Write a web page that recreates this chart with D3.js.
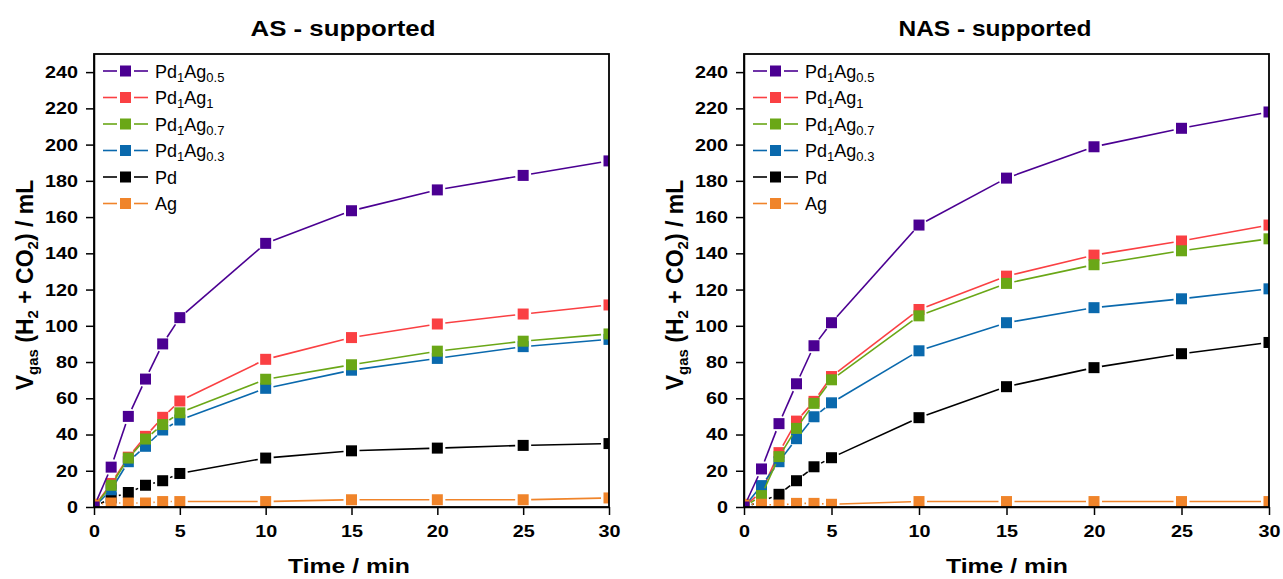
<!DOCTYPE html>
<html lang="en">
<head>
  <meta charset="UTF-8">
  <title>Gas evolution</title>
  <script src="https://d3js.org/d3.v7.min.js"></script>
  <style>
    body {
      margin: 0;
      background: white;
      font-family: "Liberation Sans", Arial, sans-serif;
    }

    svg {
      display: block;
    }

    .tick text {
      font-family: "Liberation Sans", Arial, sans-serif;
      font-size: 17px;
      font-weight: bold;
      fill: black;
    }

    .tick line,
    .domain {
      stroke: black;
      stroke-width: 1.5;
    }
  </style>
</head>
<body>
  <svg id="chart"></svg>
  <script>
    // Sampling times (min)
    const times = [0, 1, 2, 3, 4, 5, 10, 15, 20, 25, 30];
    const xTicks = [0, 5, 10, 15, 20, 25, 30];
    const yTicks = [0, 20, 40, 60, 80, 100, 120, 140, 160, 180, 200, 220, 240];

    // Series names, subscripts and colours
    const seriesKeys = ["PdAg05", "PdAg1", "PdAg07", "PdAg03", "Pd", "Ag"];
    const seriesLabels = [
      [["Pd", false], ["1", true], ["Ag", false], ["0.5", true]],
      [["Pd", false], ["1", true], ["Ag", false], ["1", true]],
      [["Pd", false], ["1", true], ["Ag", false], ["0.7", true]],
      [["Pd", false], ["1", true], ["Ag", false], ["0.3", true]],
      [["Pd", false]],
      [["Ag", false]]
    ];
    const seriesColors = ["#4b0092", "#fa4043", "#6aa717", "#0a69ad", "#000000", "#f0842a"];
    // order in which the lines are stacked (last on top)
    const drawOrder = ["Pd", "PdAg1", "PdAg03", "PdAg07", "Ag", "PdAg05"];

    // AS - supported, V gas (mL)
    const asPdAg05 = [0, 22, 50, 70.6, 90, 104.5, 145.5, 163.5, 175, 183, 191];
    const asPdAg1 = [0, 13, 27.5, 39, 49.5, 58.5, 81.5, 93.5, 101, 106.5, 111.5];
    const asPdAg07 = [0, 12, 27, 37.5, 45.5, 52, 70.5, 78.5, 86, 91.5, 95.5];
    const asPdAg03 = [0, 9.5, 25, 33.5, 42.5, 48, 65.5, 75.5, 82, 88.5, 92.5];
    const asPd = [0, 5, 8, 12, 14.5, 18.5, 27, 31, 32.5, 34, 35];
    const asAg = [1.5, 2.2, 2.2, 2.2, 3, 3, 3, 4, 4, 4, 5];

    // NAS - supported, V gas (mL)
    const nasPdAg05 = [0, 21, 46, 68, 89, 101.7, 155.6, 181.5, 198.8, 209, 218];
    const nasPdAg1 = [0, 8.5, 30, 47.4, 58.3, 72, 109, 127.4, 139, 146.8, 155.6];
    const nasPdAg07 = [0, 6.3, 27.8, 43.4, 57.2, 70.2, 105.5, 123.4, 133.7, 141.4, 148];
    const nasPdAg03 = [0, 11.8, 25, 37.7, 49.8, 57.5, 86.2, 101.7, 110, 114.9, 120.4];
    const nasPd = [0, 3, 7, 14.5, 22.2, 27.2, 49.3, 66.4, 76.9, 84.6, 90.8];
    const nasAg = [1.5, 1.5, 1, 2, 2, 1.5, 3, 3, 3, 3, 3];

    const width = 1283;
    const height = 579;
    const plotTop = 54;
    const plotBottom = 507;
    const markerSize = 11;
    const lineGap = markerSize / 2 + 2.5;

    const panels = [
      {
        title: "AS - supported", titleX: 343, titleLen: 185, left: 94, right: 609, labelX: 349,
        data: { PdAg05: asPdAg05, PdAg1: asPdAg1, PdAg07: asPdAg07, PdAg03: asPdAg03, Pd: asPd, Ag: asAg }
      },
      {
        title: "NAS - supported", titleX: 995, titleLen: 193, left: 744, right: 1269, labelX: 1007,
        data: { PdAg05: nasPdAg05, PdAg1: nasPdAg1, PdAg07: nasPdAg07, PdAg03: nasPdAg03, Pd: nasPd, Ag: nasAg }
      }
    ];

    const svg = d3.select("#chart")
      .attr("width", width)
      .attr("height", height);

    const yScale = d3.scaleLinear().domain([0, 250]).range([plotBottom, plotTop]);

    // draw a line between two points, leaving a gap round each marker
    function gappedSegments(g, pts, color) {
      for (let i = 0; i < pts.length - 1; i++) {
        const [x1, y1] = pts[i];
        const [x2, y2] = pts[i + 1];
        const len = Math.hypot(x2 - x1, y2 - y1);
        if (len <= 2 * lineGap + 1) continue;
        const ux = (x2 - x1) / len, uy = (y2 - y1) / len;
        g.append("line")
          .attr("x1", x1 + ux * lineGap)
          .attr("y1", y1 + uy * lineGap)
          .attr("x2", x2 - ux * lineGap)
          .attr("y2", y2 - uy * lineGap)
          .attr("stroke", color)
          .attr("stroke-width", 1.6);
      }
    }

    // the original lettering is a little wider than Liberation Sans
    function widen(sel, perChar) {
      sel.attr("textLength", function () { return this.textContent.length * perChar; })
        .attr("lengthAdjust", "spacingAndGlyphs");
    }

    panels.forEach((p, pi) => {
      const xScale = d3.scaleLinear().domain([0, 30]).range([p.left, p.right]);

      // Title
      svg.append("text")
        .attr("x", p.titleX)
        .attr("y", 36)
        .attr("text-anchor", "middle")
        .attr("textLength", p.titleLen)
        .attr("lengthAdjust", "spacingAndGlyphs")
        .style("font-size", "22px")
        .style("font-weight", "bold")
        .text(p.title);

      // Axes
      const xAxis = svg.append("g")
        .attr("transform", `translate(0, ${plotBottom})`)
        .call(d3.axisBottom(xScale).tickValues(xTicks).tickSize(8).tickPadding(10).tickSizeOuter(0));
      widen(xAxis.selectAll(".tick text"), 11);

      const yAxis = svg.append("g")
        .attr("transform", `translate(${p.left}, 0)`)
        .call(d3.axisLeft(yScale).tickValues(yTicks).tickSize(8).tickPadding(8).tickSizeOuter(0));
      widen(yAxis.selectAll(".tick text"), 11);

      // Clip to the frame
      const clipId = "clip" + pi;
      svg.append("clipPath")
        .attr("id", clipId)
        .append("rect")
        .attr("x", p.left)
        .attr("y", plotTop)
        .attr("width", p.right - p.left)
        .attr("height", plotBottom - plotTop);

      const plot = svg.append("g").attr("clip-path", `url(#${clipId})`);

      drawOrder.forEach(key => {
        const idx = seriesKeys.indexOf(key);
        const color = seriesColors[idx];
        const values = p.data[key];
        const pts = times.map((t, i) => [xScale(t), yScale(values[i])]);
        const g = plot.append("g");
        gappedSegments(g, pts, color);
        g.selectAll("rect")
          .data(pts)
          .enter()
          .append("rect")
          .attr("x", d => d[0] - markerSize / 2)
          .attr("y", d => d[1] - markerSize / 2)
          .attr("width", markerSize)
          .attr("height", markerSize)
          .attr("fill", color);
      });

      // Frame
      svg.append("rect")
        .attr("x", p.left)
        .attr("y", plotTop)
        .attr("width", p.right - p.left)
        .attr("height", plotBottom - plotTop)
        .attr("fill", "none")
        .attr("stroke", "black")
        .attr("stroke-width", 1.8);

      // Legend
      const legend = svg.append("g")
        .attr("transform", `translate(${p.left}, 71)`);

      seriesKeys.forEach((key, i) => {
        const row = legend.append("g").attr("transform", `translate(0, ${i * 26.5})`);
        const color = seriesColors[i];
        row.append("line").attr("x1", 9).attr("x2", 23).attr("y1", 0).attr("y2", 0)
          .attr("stroke", color).attr("stroke-width", 1.6);
        row.append("line").attr("x1", 40).attr("x2", 54).attr("y1", 0).attr("y2", 0)
          .attr("stroke", color).attr("stroke-width", 1.6);
        row.append("rect")
          .attr("x", 31.5 - markerSize / 2)
          .attr("y", -markerSize / 2)
          .attr("width", markerSize)
          .attr("height", markerSize)
          .attr("fill", color);
        const txt = row.append("text")
          .attr("x", 61)
          .attr("y", 6.5)
          .style("font-size", "18px");
        let lowered = false;
        seriesLabels[i].forEach(([s, sub]) => {
          const t = txt.append("tspan").text(s);
          if (sub && !lowered) { t.attr("dy", 4).style("font-size", "13px"); lowered = true; }
          else if (!sub && lowered) { t.attr("dy", -4); lowered = false; }
          else if (sub) t.style("font-size", "13px");
        });
      });

      // X axis label
      svg.append("text")
        .attr("x", p.labelX)
        .attr("y", 573)
        .attr("text-anchor", "middle")
        .attr("textLength", 122)
        .attr("lengthAdjust", "spacingAndGlyphs")
        .style("font-size", "21px")
        .style("font-weight", "bold")
        .text("Time / min");

      // Y axis label
      const yl = svg.append("text")
        .attr("transform", `translate(${p.left - 61}, 285) rotate(-90)`)
        .attr("text-anchor", "middle")
        .style("font-size", "23px")
        .style("font-weight", "bold");
      yl.append("tspan").text("V");
      yl.append("tspan").attr("dy", 5).style("font-size", "15px").text("gas");
      yl.append("tspan").attr("dy", -5).text(" (H");
      yl.append("tspan").attr("dy", 5).style("font-size", "15px").text("2");
      yl.append("tspan").attr("dy", -5).text(" + CO");
      yl.append("tspan").attr("dy", 5).style("font-size", "15px").text("2");
      yl.append("tspan").attr("dy", -5).text(") / mL");
    });
  </script>
</body>
</html>
